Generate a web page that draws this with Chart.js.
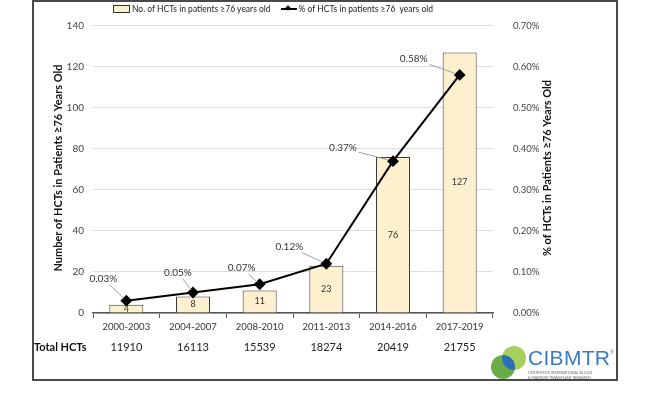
<!DOCTYPE html>
<html>
<head>
<meta charset="utf-8">
<script src="https://cdn.jsdelivr.net/npm/chart.js@4"></script>
<style>
  html, body { margin: 0; padding: 0; background: #fff; }
  #wrap { position: relative; width: 647px; height: 403px; overflow: hidden; font-family: Lato, "Open Sans", sans-serif; }
  #frame { position: absolute; left: 32px; top: 0; width: 586px; height: 381px; border: 2px solid #4a4a4a; box-sizing: border-box; pointer-events: none; }
  canvas { position: absolute; left: 0; top: 0; }
  #legend { position: absolute; left: 113px; top: 4px; font-size: 8.5px; color: #222; white-space: nowrap; display: flex; align-items: center; }
  .box { display: inline-block; width: 15px; height: 6px; background: #fdf0cf; border: 1px solid #333; margin-right: 2px; }
  .ln { display: inline-block; position: relative; width: 16px; height: 8px; margin: 0 2px 0 10px; }
  .ln:before { content: ''; position: absolute; left: 0; right: 0; top: 3px; height: 2px; background: #000; }
  .ln:after { content: ''; position: absolute; left: 5px; top: 1px; width: 4px; height: 4px; background: #000; transform: rotate(45deg); }
  #logo { position: absolute; left: 490px; top: 345px; width: 126px; height: 34px; }
  #logo .name { position: absolute; left: 38px; top: 1px; font-size: 21px; color: #3b7cc0; letter-spacing: 0.3px; font-family: "Liberation Sans", sans-serif; }
  #logo .name sup { font-size: 5px; vertical-align: top; position: relative; top: 3px; }
  #logo .sub { position: absolute; left: 38px; top: 25px; font-size: 3.6px; line-height: 5px; color: #666; white-space: nowrap; }
</style>
</head>
<body>
<div id="wrap">
  <canvas id="chart" width="647" height="403"></canvas>
  <div id="frame"></div>
  <div id="legend"><span class="box"></span>No. of HCTs in patients ≥76 years old<span class="ln"></span>% of HCTs in patients ≥76&nbsp; years old</div>
  <div id="logo">
    <svg width="38" height="36" style="position:absolute;left:0;top:0">
      <circle cx="13" cy="22" r="12" fill="#6bab48"/>
      <circle cx="24" cy="13" r="12" fill="#a6cf5b"/>
      <clipPath id="cl"><circle cx="13" cy="22" r="12"/></clipPath>
      <circle cx="24" cy="13" r="12" fill="#2b6db4" clip-path="url(#cl)"/>
    </svg>
    <div class="name">CIBMTR<sup>®</sup></div>
    <div class="sub">CENTER FOR INTERNATIONAL BLOOD<br>&amp; MARROW TRANSPLANT RESEARCH</div>
  </div>
</div>
<script>
(function() {
  'use strict';

  // ── Data ────────────────────────────────────────────────────
  const periods = ['2000-2003', '2004-2007', '2008-2010', '2011-2013', '2014-2016', '2017-2019'];
  const countsAge76 = [4, 8, 11, 23, 76, 127];
  const pctAge76 = [0.03, 0.05, 0.07, 0.12, 0.37, 0.58];
  const totalHCTs = [11910, 16113, 15539, 18274, 20419, 21755];

  // label offsets for the % callouts (dx, dy from the point)
  const pctLabelOffsets = [[-23, -22], [-15, -20], [-18, -16], [-37, -17], [-50, -13], [-46, -16]];

  const FONT = 'Lato, "Open Sans", sans-serif';

  // ── Extra drawing: titles, bar values, % callouts, totals row ──
  const extras = {
    id: 'extras',
    afterDatasetsDraw(chart) {
      const ctx = chart.ctx;
      const x = chart.scales.x;

      // bar values
      const barMeta = chart.getDatasetMeta(0);
      ctx.save();
      ctx.font = '9px ' + FONT;
      ctx.fillStyle = '#333';
      ctx.textAlign = 'center';
      ctx.textBaseline = 'middle';
      barMeta.data.forEach((bar, i) => {
        ctx.fillText(String(countsAge76[i]), bar.x, (bar.y + bar.base) / 2);
      });

      // % callouts with leader lines
      const lineMeta = chart.getDatasetMeta(1);
      ctx.font = '10px ' + FONT;
      lineMeta.data.forEach((pt, i) => {
        const txt = pctAge76[i].toFixed(2) + '%';
        const lx = pt.x + pctLabelOffsets[i][0];
        const ly = pt.y + pctLabelOffsets[i][1];
        const hw = ctx.measureText(txt).width / 2 + 2;
        const hh = 6;
        const dx = pt.x - lx, dy = pt.y - ly;
        const t = Math.min(hw / Math.abs(dx || 1e-6), hh / Math.abs(dy || 1e-6));
        const sx = lx + dx * t, sy = ly + dy * t;
        ctx.strokeStyle = '#a0a0a0';
        ctx.lineWidth = 1;
        ctx.beginPath();
        ctx.moveTo(sx, sy);
        ctx.lineTo(pt.x - dx * 0.12, pt.y - dy * 0.12);
        ctx.stroke();
        ctx.fillStyle = '#333';
        ctx.fillText(txt, lx, ly);
      });

      // totals row
      ctx.font = '11px ' + FONT;
      ctx.fillStyle = '#222';
      totalHCTs.forEach((v, i) => {
        ctx.fillText(String(v), x.getPixelForValue(i), 347);
      });
      ctx.font = 'bold 11px ' + FONT;
      ctx.fillStyle = '#111';
      ctx.textAlign = 'left';
      ctx.fillText('Total HCTs', 34, 347);

      // axis titles
      ctx.font = 'bold 11px ' + FONT;
      ctx.textAlign = 'center';
      ctx.save();
      ctx.translate(58, 168);
      ctx.rotate(-Math.PI / 2);
      ctx.fillText('Number of HCTs in Patients ≥76 Years Old', 0, 0);
      ctx.restore();
      ctx.save();
      ctx.translate(547, 168);
      ctx.rotate(-Math.PI / 2);
      ctx.fillText('% of HCTs in Patients ≥76 Years Old', 0, 0);
      ctx.restore();
      ctx.restore();
    }
  };

  new Chart(document.getElementById('chart').getContext('2d'), {
    type: 'bar',
    data: {
      labels: periods,
      datasets: [
        {
          type: 'bar',
          label: 'No. of HCTs in patients ≥76 years old',
          data: countsAge76,
          backgroundColor: '#fdf0cf',
          borderColor: '#3a3a3a',
          borderWidth: 1,
          categoryPercentage: 1,
          barPercentage: 0.51,
          yAxisID: 'y',
          order: 2
        },
        {
          type: 'line',
          label: '% of HCTs in patients ≥76 years old',
          data: pctAge76,
          borderColor: '#000',
          backgroundColor: '#000',
          borderWidth: 2,
          pointStyle: 'rectRot',
          pointRadius: 4.5,
          pointHoverRadius: 4.5,
          tension: 0,
          yAxisID: 'y1',
          order: 1
        }
      ]
    },
    options: {
      responsive: false,
      animation: false,
      layout: { padding: { top: 24, left: 0, right: 0, bottom: 0 } },
      plugins: {
        legend: { display: false },
        tooltip: { enabled: false }
      },
      scales: {
        x: {
          afterFit: s => { s.height = 90; },
          grid: { drawOnChartArea: false, drawTicks: true, tickLength: 5, color: '#555', offset: true },
          border: { color: '#555', width: 1.5 },
          ticks: { color: '#333', font: { size: 9.5, family: FONT }, padding: 3 }
        },
        y: {
          position: 'left',
          min: 0,
          max: 140,
          afterFit: s => { s.width = 93; },
          grid: { color: '#dedede', drawTicks: false },
          border: { display: false },
          ticks: { stepSize: 20, color: '#444', font: { size: 10, family: FONT }, padding: 9 }
        },
        y1: {
          position: 'right',
          min: 0,
          max: 0.7,
          afterFit: s => { s.width = 154; },
          grid: { drawOnChartArea: false, drawTicks: false },
          border: { display: false },
          ticks: {
            stepSize: 0.1,
            color: '#444',
            font: { size: 9.5, family: FONT },
            padding: 20,
            callback: v => v.toFixed(2) + '%'
          }
        }
      }
    },
    plugins: [extras]
  });
})();
</script>
</body>
</html>
